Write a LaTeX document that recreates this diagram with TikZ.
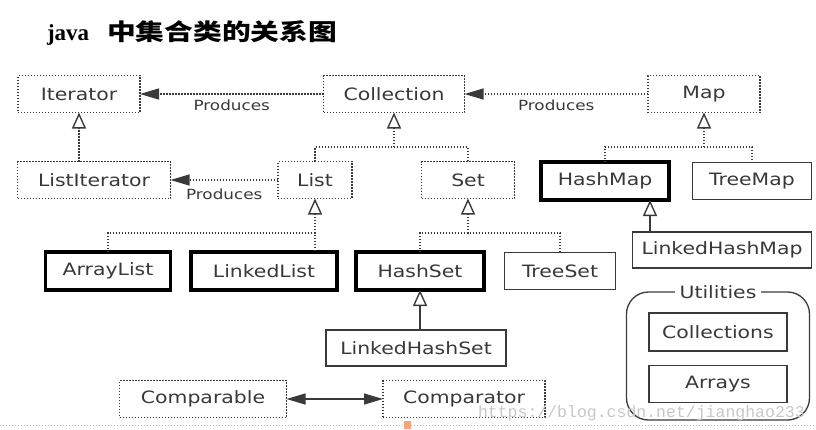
\documentclass[tikz,border=0pt]{standalone}
\usepackage{fontspec}
\setmainfont{DejaVu Sans}[FakeStretch=1.2]
\newfontfamily\cjkfont{Noto Sans CJK SC}[FakeStretch=1.25]
\newfontfamily\serffont{Liberation Serif}
\newfontfamily\markfont{Liberation Mono}
\usetikzlibrary{arrows.meta}

\definecolor{boxline}{HTML}{3A3A3A}
\definecolor{txtgray}{HTML}{383838}
\definecolor{pptorange}{HTML}{F6A47A}

\begin{document}
\begin{tikzpicture}[x=1pt,y=-1pt,inner sep=0pt,outer sep=0pt,
text=txtgray,font=\fontsize{17}{17}\selectfont,
dotbox/.style={draw=boxline,rectangle,line width=1.3pt,dash pattern=on 1.3pt off 1.7pt,minimum height=37pt},
thinbox/.style={draw=boxline,rectangle,line width=1.3pt,minimum height=37pt},
thickbox/.style={draw=black,rectangle,line width=3.5pt,minimum height=38pt},
dotline/.style={draw=boxline,line width=1.3pt,dash pattern=on 1.3pt off 1.7pt},
solidline/.style={draw=boxline,line width=1.3pt},
inherit/.style={-{Triangle[open,length=16pt,width=14pt,line width=1.4pt]}},
produce/.style={-{Triangle[length=19pt,width=11pt]}},
lbl/.style={font=\fontsize{14}{14}\selectfont,text=txtgray}]
\useasboundingbox (0,0) rectangle (816,429);
% title
\draw (47,40) node[anchor=base west,text=black] (title) {\fontsize{23}{23}\selectfont\serffont\bfseries java};
\draw (107,40) node[anchor=base west,text=black] (titlecn) {\fontsize{23}{23}\selectfont\cjkfont\bfseries 中集合类的关系图};
% interfaces
\draw (79,94) node[dotbox,minimum width=122pt] (iter) {Iterator};
\draw (394,94) node[dotbox,minimum width=141pt] (coll) {Collection};
\draw (704,94) node[dotbox,minimum width=112pt] (map) {Map};
\draw (94,180) node[dotbox,minimum width=153pt] (liter) {ListIterator};
\draw (315,180) node[dotbox,minimum width=74pt] (list) {List};
\draw (468,180) node[dotbox,minimum width=93pt] (set) {Set};
% classes
\draw (605,181) node[thickbox,minimum width=128pt] (hmap) {HashMap};
\draw (752,181) node[thinbox,minimum width=119pt] (tmap) {TreeMap};
\draw (722,250) node[thinbox,minimum width=179pt,minimum height=36pt] (lhmap) {LinkedHashMap};
\draw (108,271) node[thickbox,minimum width=125pt] (alist) {ArrayList};
\draw (264,271) node[thickbox,minimum width=146pt] (llist) {LinkedList};
\draw (420,271) node[thickbox,minimum width=128pt] (hset) {HashSet};
\draw (560,271) node[thinbox,minimum width=111pt] (tset) {TreeSet};
\draw (416,348) node[thinbox,minimum width=180pt,minimum height=36pt] (lhset) {LinkedHashSet};
\draw (203,399) node[dotbox,minimum width=167pt] (cmpble) {Comparable};
\draw (464,399) node[dotbox,minimum width=162pt] (cmptor) {Comparator};
% utilities
\draw (718,356) node[draw=boxline,line width=1.3pt,rounded corners=22pt,minimum width=183pt,minimum height=128pt] (util) {};
\draw (util.north) node[fill=white,inner xsep=5pt,inner ysep=2pt] (utitle) {Utilities};
\draw (718,332) node[thinbox,minimum width=138pt,minimum height=38pt] (colls) {Collections};
\draw (718,384) node[thinbox,minimum width=138pt] (arrs) {Arrays};
% produces
\draw[dotline,produce] (coll) -- (iter) node[lbl,midway,below=6pt] (prod1) {Produces};
\draw[dotline,produce] (map) -- (coll) node[lbl,midway,below=6pt] (prod2) {Produces};
\draw[dotline,produce] (list) -- (liter) node[lbl,midway,below=9pt] (prod3) {Produces};
% inheritance
\draw[dotline,inherit] (iter.south |- liter.north) -- (iter.south);
\coordinate (collhub) at (394,147);
\draw[dotline,inherit] (collhub) -- (coll.south);
\draw[dotline] (list.north) |- (collhub) -| (set.north);
\coordinate (maphub) at (704,147);
\draw[dotline,inherit] (maphub) -- (map.south);
\draw[dotline] (hmap.north) |- (maphub) -| (tmap.north);
\coordinate (listhub) at (315,233);
\draw[dotline,inherit] (listhub) -- (list.south);
\draw[dotline] (alist.north) |- (listhub) -- (llist.north -| listhub);
\coordinate (sethub) at (468,233);
\draw[dotline,inherit] (sethub) -- (set.south);
\draw[dotline] (hset.north) |- (sethub) -| (tset.north);
\draw[solidline,inherit] ([xshift=45pt]hmap.south |- lhmap.north) -- ([xshift=45pt]hmap.south);
\draw[solidline,inherit] (hset.south |- lhset.north) -- (hset.south);
% comparable <-> comparator
\draw[solidline,{Triangle[length=19pt,width=11pt]}-{Triangle[length=19pt,width=11pt]}] (cmpble) -- (cmptor);
% slide footer and watermark
\draw[pptorange,line width=1pt,dash pattern=on 1pt off 2pt] (0,425) coordinate (footl) -- (816,425) coordinate (footr);
\fill[pptorange] (404,421) rectangle (411,429);
\draw (478,417) node[anchor=base west,text=black!22] (wmark) {\fontsize{16.5}{16.5}\selectfont\markfont https://blog.csdn.net/jianghao233};
\end{tikzpicture}
\end{document}
